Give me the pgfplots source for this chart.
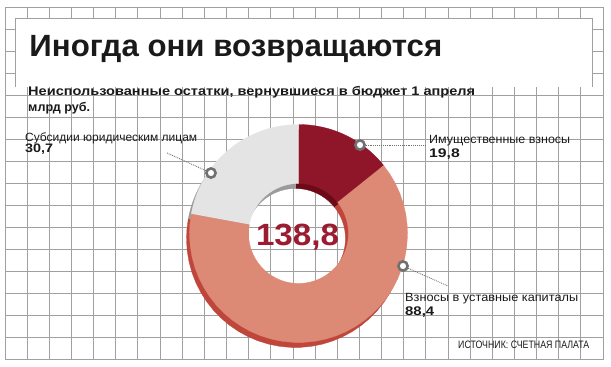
\documentclass[border=0pt]{standalone}
\usepackage{pgfplots}
\pgfplotsset{compat=1.18}
\usepackage{pgfplotstable}
\usepackage{graphicx}
\usepackage{fontspec}
\setmainfont{Liberation Sans}

\definecolor{dred}{RGB}{143,22,40}
\definecolor{dredS}{RGB}{108,10,24}
\definecolor{salmon}{RGB}{220,137,117}
\definecolor{salmonS}{RGB}{192,70,60}
\definecolor{lgray}{RGB}{228,228,228}
\definecolor{lgrayS}{RGB}{155,155,155}
\definecolor{gridc}{RGB}{160,160,160}
\definecolor{numc}{RGB}{155,27,48}
\definecolor{txt}{RGB}{26,26,26}
\definecolor{mk}{RGB}{112,112,112}

% values (bn rub), clockwise from the top
\pgfplotstableread{
idx value
0 19.8
1 88.4
2 30.7
}\donutdata
\pgfplotstablegetelem{0}{value}\of\donutdata \let\va\pgfplotsretval
\pgfplotstablegetelem{1}{value}\of\donutdata \let\vb\pgfplotsretval
\pgfplotstablegetelem{2}{value}\of\donutdata \let\vc\pgfplotsretval
\pgfmathsetmacro{\tot}{\va+\vb+\vc}
\pgfmathsetmacro{\aA}{90}
\pgfmathsetmacro{\aB}{\aA-(\va/\tot)*360}
\pgfmathsetmacro{\aC}{\aB-(\vb/\tot)*360}
\pgfmathsetmacro{\aD}{\aC-(\vc/\tot)*360}

\newcommand{\fitw}[2]{\resizebox{#1}{\height}{#2}}
% ring wedge: colour, start angle, end angle, centre x, centre y
\newcommand{\ringwedge}[5]{%
  \addplot[fill=#1, draw=#1, line width=0.3pt, domain=0:3, samples=121]
    ({#4 + wr(x)*cos(wa(x,#2,#3))}, {#5 - wr(x)*sin(wa(x,#2,#3))});
}

\begin{document}
\begin{tikzpicture}
\useasboundingbox (0,0) rectangle (611pt,367pt);
% background grid
\begin{axis}[at={(5pt,8pt)}, anchor=south west, width=598pt, height=352pt,
  scale only axis, xmin=5, xmax=603, ymin=7, ymax=359, y dir=reverse,
  xtick={5,27.15,...,604}, ytick={7,29,...,360},
  xticklabels={}, yticklabels={}, major tick length=0pt, tick style={draw=none},
  grid=major, grid style={gridc, line width=0.9pt},
  axis line style={gridc, line width=0.9pt}]
\end{axis}
\begin{axis}[at={(0pt,0pt)}, anchor=south west, width=611pt, height=367pt,
  scale only axis, xmin=0, xmax=611, ymin=0, ymax=367, y dir=reverse,
  hide axis, clip=false,
  declare function={
    wa(\pt,\ps,\pe)=ifthenelse(\pt<1, \ps+(\pe-\ps)*\pt, ifthenelse(\pt<2, \pe, \pe-(\pe-\ps)*(\pt-2)));
    wr(\pt)=ifthenelse(\pt<1, 109, ifthenelse(\pt<2, 109-59*(\pt-1), 50));
  }]
% title box
\fill[white] (axis cs:15,18) rectangle (axis cs:592.7,87);
\draw[gridc, line width=0.9pt] (axis cs:15,87) -- (axis cs:15,18) -- (axis cs:592.7,18) -- (axis cs:592.7,87);

% lower (side) layer of the donut
\ringwedge{dredS}{\aA}{\aB}{295.5}{238.5}
\ringwedge{salmonS}{\aB}{\aC}{295.5}{238.5}
\ringwedge{lgrayS}{\aC}{\aD}{295.5}{238.5}
% top face
\ringwedge{dred}{\aA}{\aB}{298.5}{233.5}
\ringwedge{salmon}{\aB}{\aC}{298.5}{233.5}
\ringwedge{lgray}{\aC}{\aD}{298.5}{233.5}

% leader lines
\addplot[mk, line width=0.9pt, dash pattern=on 0.9pt off 1pt] coordinates {(360,145) (425,145)};
\addplot[mk, line width=0.9pt, dash pattern=on 0.9pt off 1pt] coordinates {(211,173) (167,153)};
\addplot[mk, line width=0.9pt, dash pattern=on 0.9pt off 1pt] coordinates {(403,266) (448,286)};
% markers
\addplot[only marks, mark=*, mark size=4.6pt, mark options={fill=white, draw=mk, line width=2.6pt}]
  coordinates {(360,145) (211,173) (403,266)};

% texts
\node[anchor=base west, inner sep=0pt, text=txt, font=\fontsize{30.7}{32}\selectfont\bfseries]
  at (axis cs:29.3,56.7) {\fitw{412.7pt}{Иногда они возвращаются}};
\node[anchor=base west, inner sep=0pt, text=txt, font=\fontsize{12.5}{14}\selectfont\bfseries]
  at (axis cs:28,95) {\fitw{447pt}{Неиспользованные остатки, вернувшиеся в бюджет 1 апреля}};
\node[anchor=base west, inner sep=0pt, text=txt, font=\fontsize{12.5}{14}\selectfont\bfseries]
  at (axis cs:28,111) {\fitw{62pt}{млрд руб.}};

\node[anchor=base west, inner sep=0pt, text=txt, font=\fontsize{11.9}{13}\selectfont]
  at (axis cs:25,141.2) {\fitw{172pt}{Субсидии юридическим лицам}};
\node[anchor=base west, inner sep=0pt, text=txt, font=\fontsize{12.3}{13}\selectfont\bfseries]
  at (axis cs:25,152.8) {\fitw{28pt}{30,7}};

\node[anchor=base west, inner sep=0pt, text=txt, font=\fontsize{11.9}{13}\selectfont]
  at (axis cs:429,143.3) {\fitw{141pt}{Имущественные взносы}};
\node[anchor=base west, inner sep=0pt, text=txt, font=\fontsize{12.5}{13}\selectfont\bfseries]
  at (axis cs:429,157.5) {\fitw{30.7pt}{19,8}};

\node[anchor=base west, inner sep=0pt, text=txt, font=\fontsize{11.9}{13}\selectfont]
  at (axis cs:405,301.7) {\fitw{173pt}{Взносы в уставные капиталы}};
\node[anchor=base west, inner sep=0pt, text=txt, font=\fontsize{12.5}{13}\selectfont\bfseries]
  at (axis cs:405,315.8) {\fitw{29pt}{88,4}};

\node[anchor=base west, inner sep=0pt, text=txt, font=\fontsize{10.75}{12}\selectfont]
  at (axis cs:458,348.3) {\fitw{131pt}{ИСТОЧНИК: СЧЕТНАЯ ПАЛАТА}};

\node[anchor=base, inner sep=0pt, text=numc, font=\fontsize{30.7}{32}\selectfont\bfseries]
  at (axis cs:297.5,245) {\fitw{83pt}{138,8}};
\end{axis}
\end{tikzpicture}
\end{document}
